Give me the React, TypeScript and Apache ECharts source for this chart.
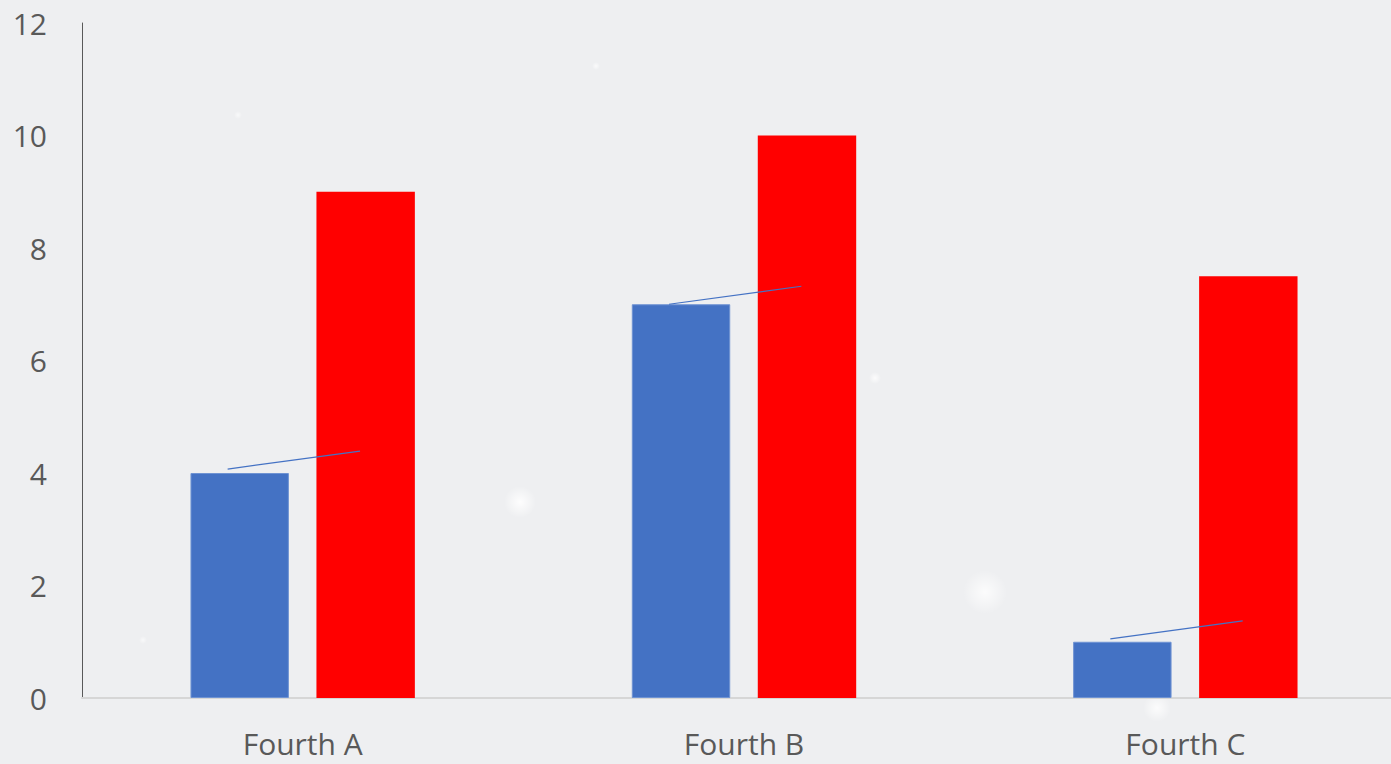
import React, { useEffect, useRef } from "react";
import * as echarts from "echarts";

const categories = ["Fourth A", "Fourth B", "Fourth C"];
const blueValues = [4, 7, 1];
const redValues = [9, 10, 7.5];
// thin connector segments above each blue bar (start / end heights in axis units)
const leaderStart = [4.07, 7.0, 1.05];
const leaderEnd = [4.39, 7.32, 1.37];
const yTicks = [0, 2, 4, 6, 8, 10, 12];

const FONT = "'Open Sans', 'Noto Sans', sans-serif";

export default function App() {
  const ref = useRef<HTMLDivElement>(null);

  useEffect(() => {
    if (!ref.current) return;
    const chart = echarts.init(ref.current, undefined, { renderer: "svg" });

    const glow = (x: number, y: number, r: number, a: number) => ({
      type: "circle",
      silent: true,
      z: -1,
      shape: { cx: x, cy: y, r },
      style: {
        fill: new echarts.graphic.RadialGradient(0.5, 0.5, 0.5, [
          { offset: 0, color: `rgba(255,255,255,${a})` },
          { offset: 1, color: "rgba(255,255,255,0)" },
        ]),
      },
    });

    chart.setOption({
      animation: false,
      backgroundColor: "#eeeff1",
      graphic: [
        glow(520, 502, 16, 0.9),
        glow(985, 592, 22, 0.8),
        glow(1157, 708, 14, 0.8),
        glow(875, 378, 6, 0.8),
        glow(596, 66, 4, 0.7),
        glow(238, 115, 4, 0.6),
        glow(143, 640, 4, 0.6),
      ],
      // the plot runs a little past the visible right edge
      grid: { left: 82, top: 23, bottom: 66, right: 0, containLabel: false },
      xAxis: {
        type: "category",
        data: categories,
        axisLine: { show: true, lineStyle: { color: "#d6d6d6", width: 2 } },
        axisTick: { show: false },
        axisLabel: { color: "#595959", fontSize: 30, fontFamily: FONT, margin: 30 },
        splitLine: { show: false },
      },
      yAxis: {
        type: "value",
        min: yTicks[0],
        max: yTicks[yTicks.length - 1],
        interval: 2,
        axisLine: { show: true, lineStyle: { color: "#595959", width: 1 } },
        axisTick: { show: false },
        splitLine: { show: false },
        axisLabel: { color: "#595959", fontSize: 30, fontFamily: FONT, margin: 35 },
      },
      series: [
        {
          name: "Blue",
          type: "bar",
          data: blueValues,
          barWidth: "22.3%",
          barGap: "28%",
          itemStyle: { color: "#4472c4", borderColor: "#6f93d3", borderWidth: 1 },
        },
        {
          name: "Red",
          type: "bar",
          data: redValues,
          barWidth: "22.3%",
          itemStyle: { color: "#ff0000" },
        },
        {
          name: "Leader",
          type: "custom",
          z: 5,
          silent: true,
          data: categories.map((_, i) => [i, leaderStart[i], leaderEnd[i]]),
          renderItem: (params: any, api: any) => {
            const i = api.value(0);
            const band = api.size([1, 0])[0];
            const p0 = api.coord([i, api.value(1)]);
            const p1 = api.coord([i, api.value(2)]);
            return {
              type: "line",
              shape: {
                x1: p0[0] - band * 0.17,
                y1: p0[1],
                x2: p1[0] + band * 0.13,
                y2: p1[1],
              },
              style: { stroke: "#4472c4", lineWidth: 1.2 },
            };
          },
        },
      ],
    });

    return () => chart.dispose();
  }, []);

  return (
    <div
      style={{
        position: "fixed",
        left: 0,
        top: 0,
        width: 1391,
        height: 764,
        overflow: "hidden",
        background: "#eeeff1",
      }}
    >
      <div ref={ref} style={{ width: 1406, height: 764 }} />
    </div>
  );
}
